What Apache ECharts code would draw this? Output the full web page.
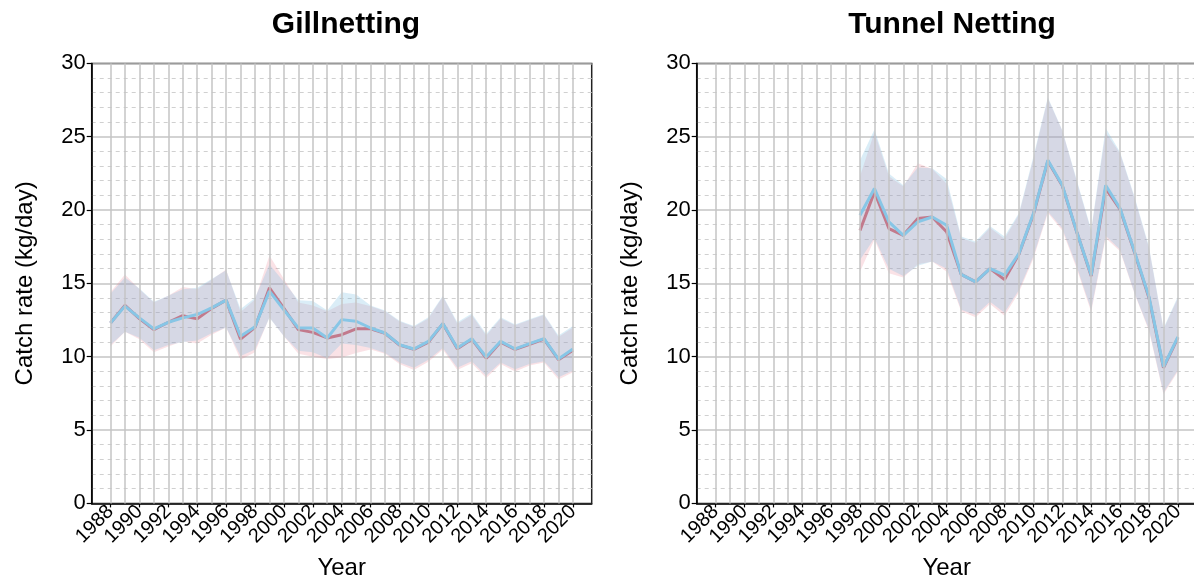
<!DOCTYPE html>
<html>
<head>
<meta charset="utf-8">
<script src="https://cdn.jsdelivr.net/npm/echarts@6/dist/echarts.min.js"></script>
<style>
html,body{margin:0;padding:0;background:#fff;}
#c{width:1194px;height:581px;}
</style>
</head>
<body>
<div id="c"></div>
<script>
// ---------- DATA ----------
const yearsGill = [1988,1989,1990,1991,1992,1993,1994,1995,1996,1997,1998,1999,2000,2001,2002,2003,2004,2005,2006,2007,2008,2009,2010,2011,2012,2013,2014,2015,2016,2017,2018,2019,2020];
const gillRed      = [12.3,13.5,12.6,11.85,12.35,12.8,12.58,13.3,13.86,11.2,12.0,14.7,13.3,11.85,11.66,11.28,11.5,11.9,11.9,11.6,10.8,10.5,11.0,12.25,10.55,11.2,9.9,11.0,10.5,10.85,11.2,9.8,10.45];
const gillBlue     = [12.3,13.45,12.65,11.9,12.35,12.65,12.88,13.33,13.86,11.4,12.05,14.47,13.2,11.96,11.96,11.28,12.53,12.42,11.96,11.62,10.82,10.53,11.05,12.26,10.6,11.23,9.98,11.05,10.53,10.89,11.23,9.84,10.53];
const gillRedUp    = [14.4,15.6,14.6,13.7,14.15,14.75,14.6,15.25,15.95,13.05,13.9,16.9,15.3,13.7,13.5,13.1,13.6,13.7,13.45,13.1,12.4,12.05,12.6,14.1,12.25,12.85,11.45,12.6,12.15,12.5,12.85,11.35,12.0];
const gillRedLo    = [10.7,11.7,11.2,10.3,10.7,11.05,10.9,11.5,12.0,9.8,10.3,12.7,11.4,10.2,10.0,9.85,9.95,10.25,10.5,10.2,9.5,9.1,9.65,10.5,9.1,9.55,8.55,9.5,9.0,9.4,9.6,8.45,8.95];
const gillBlueUp   = [14.3,15.4,14.65,13.75,14.15,14.6,14.7,15.3,15.9,13.25,14.0,16.3,15.1,13.85,13.8,13.15,14.4,14.25,13.5,13.15,12.45,12.1,12.7,14.15,12.35,12.95,11.55,12.7,12.2,12.55,12.9,11.45,12.1];
const gillBlueLo   = [10.8,11.7,11.3,10.45,10.8,11.0,11.1,11.6,12.0,10.05,10.5,12.65,11.4,10.4,10.3,9.9,10.9,10.8,10.6,10.25,9.6,9.25,9.8,10.6,9.25,9.7,8.7,9.6,9.15,9.5,9.7,8.6,9.05];

const yearsTunnel = [1998,1999,2000,2001,2002,2003,2004,2005,2006,2007,2008,2009,2010,2011,2012,2013,2014,2015,2016,2017,2018,2019,2020];
const tunnelRed    = [18.6,21.24,18.74,18.28,19.42,19.53,18.51,15.62,15.1,16.01,15.26,17.0,19.7,23.35,21.65,18.5,15.5,21.47,20.05,17.1,14.0,9.25,11.3];
const tunnelBlue   = [19.65,21.47,19.19,18.28,19.19,19.53,18.96,15.62,15.1,16.01,15.56,17.03,19.76,23.4,21.69,18.51,15.56,21.69,20.1,17.15,14.08,9.3,11.35];
const tunnelRedUp  = [22.3,25.3,22.3,21.6,23.2,22.8,21.8,18.1,17.75,18.8,18.05,19.7,23.5,27.6,25.4,21.95,18.55,25.3,23.85,20.8,17.4,11.85,14.0];
const tunnelRedLo  = [15.8,18.0,15.7,15.4,16.3,16.5,15.8,13.1,12.7,13.6,12.8,14.4,16.7,19.8,18.6,16.0,13.05,18.1,17.2,14.3,11.75,7.45,9.0];
const tunnelBlueUp = [23.4,25.5,22.5,21.7,22.9,22.85,22.1,18.2,17.85,18.9,18.2,19.8,23.65,27.7,25.45,22.05,18.65,25.6,23.95,20.9,17.5,11.95,14.1];
const tunnelBlueLo = [16.6,18.1,16.0,15.5,16.2,16.5,16.0,13.2,12.85,13.75,13.0,14.55,16.85,19.9,18.75,16.15,13.2,18.25,17.3,14.35,11.85,7.55,9.1];

const tickYears = [1988,1990,1992,1994,1996,1998,2000,2002,2004,2006,2008,2010,2012,2014,2016,2018,2020];
const gridYears = yearsGill;
const titles = ['Gillnetting','Tunnel Netting'];
const yName = 'Catch rate (kg/day)';
const xName = 'Year';

// ---------- STYLE ----------
const FONT = 'Liberation Sans, Arial, sans-serif';
const RED = '#c27a8c';
const BLUE = '#87c6e6';
const RED_BAND = 'rgba(232,112,132,0.20)';
const BLUE_BAND = 'rgba(118,188,224,0.27)';
const GRIDC = '#c4c4c4';

const pairs = (xs, ys) => xs.map((x, i) => [x, ys[i]]);

function xAxis(idx) {
  return {
    type: 'value', gridIndex: idx, min: 1986.7, max: 2021.3,
    name: xName, nameLocation: 'middle', nameGap: 53,
    nameTextStyle: {fontFamily: FONT, fontSize: 24, color: '#000'},
    axisLine: {show: true, onZero: false, lineStyle: {color: '#000', width: 1.5}},
    axisTick: {show: true, length: 4, customValues: tickYears, lineStyle: {color: '#000', width: 1.2}},
    axisLabel: {customValues: tickYears, rotate: 45, margin: 5, fontFamily: FONT, fontSize: 20, color: '#000',
                hideOverlap: false, formatter: v => String(v)},
    splitLine: {show: false}
  };
}
function yAxis(idx) {
  return {
    type: 'value', gridIndex: idx, min: 0, max: 30, interval: 5,
    name: yName, nameLocation: 'middle', nameGap: 54, nameRotate: 90,
    nameTextStyle: {fontFamily: FONT, fontSize: 24, color: '#000'},
    axisLine: {show: true, onZero: false, lineStyle: {color: '#000', width: 1.5}},
    axisTick: {show: true, length: 5, lineStyle: {color: '#000', width: 1.2}},
    axisLabel: {fontFamily: FONT, fontSize: 22, color: '#000', margin: 6, showMinLabel: true, showMaxLabel: true},
    splitLine: {show: true, lineStyle: {color: GRIDC, width: 1.5}},
    minorTick: {show: false, splitNumber: 5},
    minorSplitLine: {show: true, lineStyle: {color: '#d0d0d0', width: 1, type: [4, 4]}}
  };
}
// band drawn as one polygon through the axes' scales (api.coord)
function bandSeries(idx, xs, up, lo, color) {
  return {
    type: 'custom', xAxisIndex: idx, yAxisIndex: idx, silent: true, z: 2,
    data: xs.map((x, i) => [x, up[i], lo[i]]),
    encode: {x: 0, y: [1, 2]},
    renderItem: function (params, api) {
      if (params.dataIndex !== 0) return null;
      const top = xs.map((x, i) => api.coord([x, up[i]]));
      const bot = xs.map((x, i) => api.coord([x, lo[i]])).reverse();
      return {type: 'polygon', shape: {points: top.concat(bot)}, style: {fill: color, stroke: null}};
    }
  };
}
function lineSeries(idx, xs, ys, color, z) {
  return {type: 'line', xAxisIndex: idx, yAxisIndex: idx, data: pairs(xs, ys), symbol: 'none',
          lineStyle: {color: color, width: 3}, z: z, silent: true};
}
function vGrid(idx) {
  return {type: 'line', xAxisIndex: idx, yAxisIndex: idx, data: [], silent: true, z: 1,
    markLine: {silent: true, symbol: 'none', label: {show: false}, animation: false,
      lineStyle: {color: GRIDC, width: 1.5, type: 'solid'},
      data: gridYears.map(y => ({xAxis: y}))}};
}

const chart = echarts.init(document.getElementById('c'), null, {renderer: 'canvas'});
chart.setOption({
  animation: false,
  backgroundColor: '#fff',
  title: [
    {text: titles[0], left: 341, top: 5, textAlign: 'center', textStyle: {fontFamily: FONT, fontSize: 30, fontWeight: 'bold', color: '#000'}},
    {text: titles[1], left: 947, top: 5, textAlign: 'center', textStyle: {fontFamily: FONT, fontSize: 30, fontWeight: 'bold', color: '#000'}}
  ],
  grid: [
    {left: 91.7, top: 63.4, width: 500, height: 440, show: true, borderColor: '#222', borderWidth: 1.5,
     backgroundColor: 'transparent', containLabel: false, outerBoundsMode: 'none'},
    {left: 696.7, top: 63.4, width: 500, height: 440, show: true, borderColor: '#222', borderWidth: 1.5,
     backgroundColor: 'transparent', containLabel: false, outerBoundsMode: 'none'}
  ],
  xAxis: [xAxis(0), xAxis(1)],
  yAxis: [yAxis(0), yAxis(1)],
  series: [
    vGrid(0), vGrid(1),
    bandSeries(0, yearsGill, gillRedUp, gillRedLo, RED_BAND),
    bandSeries(0, yearsGill, gillBlueUp, gillBlueLo, BLUE_BAND),
    lineSeries(0, yearsGill, gillRed, RED, 3),
    lineSeries(0, yearsGill, gillBlue, BLUE, 4),
    bandSeries(1, yearsTunnel, tunnelRedUp, tunnelRedLo, RED_BAND),
    bandSeries(1, yearsTunnel, tunnelBlueUp, tunnelBlueLo, BLUE_BAND),
    lineSeries(1, yearsTunnel, tunnelRed, RED, 3),
    lineSeries(1, yearsTunnel, tunnelBlue, BLUE, 4)
  ]
});
</script>
</body>
</html>
